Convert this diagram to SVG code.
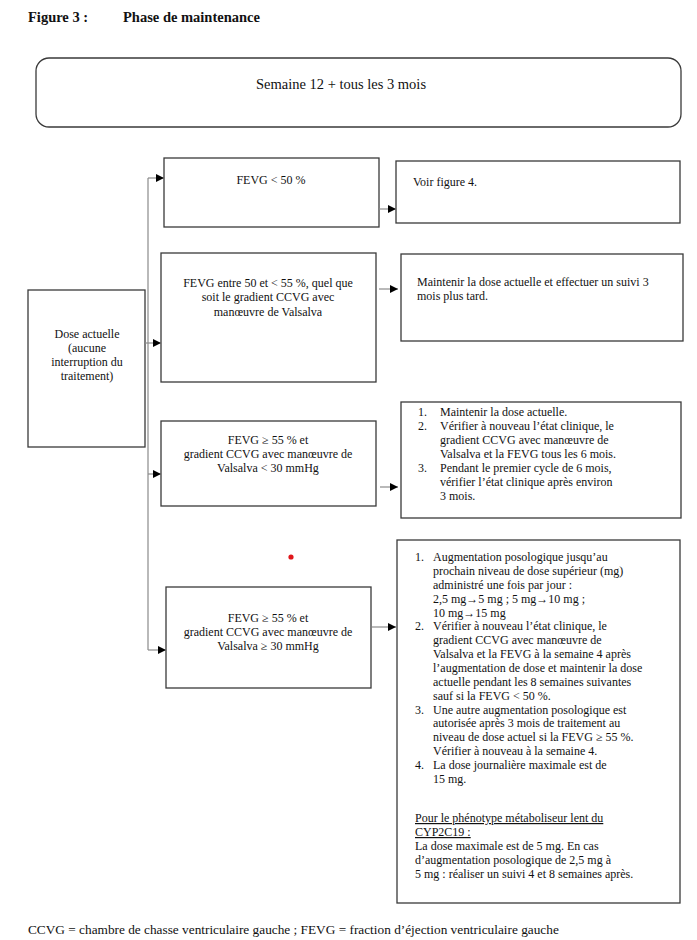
<svg xmlns="http://www.w3.org/2000/svg" width="697" height="940" viewBox="0 0 697 940">
<style>
text{font-family:"Liberation Serif","Times New Roman",serif;fill:#111;font-size:12px}
.t{font-size:14.5px;font-weight:bold}
.big{font-size:14.5px}
.foot{font-size:13.3px}
.c{text-anchor:middle}
.box{fill:#fff;stroke:#3a3a3a;stroke-width:1.3}
.con{fill:none;stroke:#8a8a8a;stroke-width:1.2}
.u{text-decoration:underline}
</style>
<defs>
<marker id="ah" markerUnits="userSpaceOnUse" markerWidth="9" markerHeight="8" refX="8" refY="4" orient="auto">
<path d="M0,0 L8,4 L0,8 Z" fill="#000"/>
</marker>
</defs>
<rect width="697" height="940" fill="#fff"/>
<g id="title">
<text class="t" x="28" y="22">Figure 3 :</text>
<text class="t" x="123" y="22">Phase de maintenance</text>
</g>
<g id="header">
<rect class="box" x="36" y="58" width="645" height="69" rx="13"/>
<text class="big c" x="341" y="89">Semaine 12 + tous les 3 mois</text>
</g>
<g id="dose">
<rect class="box" x="28" y="290" width="117" height="157"/>
<text class="c" x="87" y="338">Dose actuelle</text>
<text class="c" x="87" y="352">(aucune</text>
<text class="c" x="87" y="366">interruption du</text>
<text class="c" x="87" y="380">traitement)</text>
</g>
<g id="c1">
<rect class="box" x="164" y="158" width="215" height="69"/>
<text class="c" x="271" y="184">FEVG &lt; 50 %</text>
</g>
<g id="r1">
<rect class="box" x="396" y="161" width="284" height="62"/>
<text x="413" y="186">Voir figure 4.</text>
</g>
<g id="c2">
<rect class="box" x="161" y="253" width="215" height="129"/>
<text class="c" x="268" y="287">FEVG entre 50 et &lt; 55 %, quel que</text>
<text class="c" x="268" y="301">soit le gradient CCVG avec</text>
<text class="c" x="268" y="315.5">manœuvre de Valsalva</text>
</g>
<g id="r2">
<rect class="box" x="401" y="254" width="282" height="87"/>
<text x="417" y="286">Maintenir la dose actuelle et effectuer un suivi 3</text>
<text x="417" y="300">mois plus tard.</text>
</g>
<g id="c3">
<rect class="box" x="161" y="421" width="215" height="85"/>
<text class="c" x="268" y="444">FEVG ≥ 55 % et</text>
<text class="c" x="268" y="458">gradient CCVG avec manœuvre de</text>
<text class="c" x="268" y="471.5">Valsalva &lt; 30 mmHg</text>
</g>
<g id="r3">
<rect class="box" x="401" y="402" width="280" height="116"/>
<text x="418" y="416">1.</text><text x="440" y="416">Maintenir la dose actuelle.</text>
<text x="418" y="430">2.</text><text x="440" y="430">Vérifier à nouveau l’état clinique, le</text>
<text x="440" y="444">gradient CCVG avec manœuvre de</text>
<text x="440" y="458">Valsalva et la FEVG tous les 6 mois.</text>
<text x="418" y="472">3.</text><text x="440" y="472">Pendant le premier cycle de 6 mois,</text>
<text x="440" y="486">vérifier l’état clinique après environ</text>
<text x="440" y="500">3 mois.</text>
</g>
<g id="c4">
<rect class="box" x="166" y="587" width="205" height="101"/>
<text class="c" x="268" y="622">FEVG ≥ 55 % et</text>
<text class="c" x="268" y="636">gradient CCVG avec manœuvre de</text>
<text class="c" x="268" y="649.5">Valsalva ≥ 30 mmHg</text>
</g>
<g id="r4">
<rect class="box" x="397" y="540" width="283" height="363"/>
<text x="415" y="561">1.</text><text x="433" y="561">Augmentation posologique jusqu’au</text>
<text x="433" y="574.9">prochain niveau de dose supérieur (mg)</text>
<text x="433" y="588.7">administré une fois par jour :</text>
<text x="433" y="602.6">2,5 mg→5 mg ; 5 mg→10 mg ;</text>
<text x="433" y="616.5">10 mg→15 mg</text>
<text x="415" y="630.3">2.</text><text x="433" y="630.3">Vérifier à nouveau l’état clinique, le</text>
<text x="433" y="644.2">gradient CCVG avec manœuvre de</text>
<text x="433" y="658.1">Valsalva et la FEVG à la semaine 4 après</text>
<text x="433" y="672">l’augmentation de dose et maintenir la dose</text>
<text x="433" y="685.8">actuelle pendant les 8 semaines suivantes</text>
<text x="433" y="699.7">sauf si la FEVG &lt; 50 %.</text>
<text x="415" y="713.6">3.</text><text x="433" y="713.6">Une autre augmentation posologique est</text>
<text x="433" y="727.4">autorisée après 3 mois de traitement au</text>
<text x="433" y="741.3">niveau de dose actuel si la FEVG ≥ 55 %.</text>
<text x="433" y="755.2">Vérifier à nouveau à la semaine 4.</text>
<text x="415" y="769">4.</text><text x="433" y="769">La dose journalière maximale est de</text>
<text x="433" y="783">15 mg.</text>
<text class="u" x="415" y="822">Pour le phénotype métaboliseur lent du</text>
<text class="u" x="415" y="836">CYP2C19 :</text>
<text x="415" y="850">La dose maximale est de 5 mg. En cas</text>
<text x="415" y="864">d’augmentation posologique de 2,5 mg à</text>
<text x="415" y="878">5 mg : réaliser un suivi 4 et 8 semaines après.</text>
</g>
<g id="connectors">
<path class="con" d="M148,178 V650"/>
<path class="con" d="M148,178 H164" marker-end="url(#ah)"/>
<path class="con" d="M145,343 H161" marker-end="url(#ah)"/>
<path class="con" d="M148,474 H161" marker-end="url(#ah)"/>
<path class="con" d="M148,650 H166" marker-end="url(#ah)"/>
<path class="con" d="M379,209 H396" marker-end="url(#ah)"/>
<path class="con" d="M379,289 H398" marker-end="url(#ah)"/>
<path class="con" d="M380,487 H398" marker-end="url(#ah)"/>
<path class="con" d="M372,627 H396" marker-end="url(#ah)"/>
</g>
<circle cx="291" cy="557" r="2.6" fill="#e0161b"/>
<g id="footer">
<text class="foot" x="28" y="934">CCVG = chambre de chasse ventriculaire gauche ; FEVG = fraction d’éjection ventriculaire gauche</text>
</g>
</svg>
